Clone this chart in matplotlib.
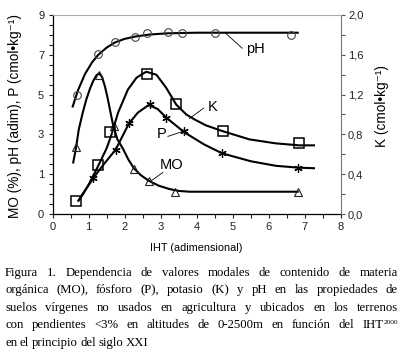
import matplotlib
matplotlib.use("Agg")
import matplotlib.pyplot as plt
from matplotlib.ticker import FixedLocator, MultipleLocator

plt.rcParams['font.family'] = ['Liberation Sans', 'DejaVu Sans']

# observed points (left axis values are in the axis' own scale, bottom = -1)
ph_x = [0.685, 1.265, 1.73, 2.28, 2.63, 3.2, 3.59, 4.51, 6.62]
ph_y = [4.99, 7.03, 7.65, 7.87, 8.08, 8.15, 8.12, 8.12, 8.0]
mo_x = [0.65, 1.29, 1.70, 2.27, 2.67, 3.40, 6.80]
mo_y = [2.35, 5.97, 3.44, 1.26, 0.68, 0.13, 0.12]
p_x = [1.13, 1.75, 2.12, 2.69, 3.15, 3.66, 4.70, 6.81]
p_y = [0.81, 2.23, 3.55, 4.52, 3.80, 3.15, 2.05, 1.33]
k_x = [0.65, 1.27, 1.59, 2.63, 3.43, 4.74, 6.84]
k_y = [0.134, 0.49, 0.82, 1.41, 1.11, 0.83, 0.71]

# fitted curves
ph_cx = [0.56, 0.7, 0.9, 1.1, 1.27, 1.5, 1.73, 2.0, 2.3, 2.7, 3.2, 4.0, 6.8]
ph_cy = [4.4, 5.19, 6.03, 6.63, 7.0, 7.36, 7.62, 7.8, 7.92, 8.02, 8.08, 8.11, 8.11]
mo_cx = [0.575, 0.65, 0.73, 0.84, 0.94, 1.04, 1.13, 1.22, 1.29, 1.37, 1.45, 1.52,
         1.59, 1.68, 1.8, 1.96, 2.1, 2.26, 2.45, 2.67, 2.95, 3.25, 3.5, 3.8, 6.8]
mo_cy = [1.59, 2.3, 3.26, 4.1, 4.77, 5.3, 5.69, 5.97, 6.07, 5.9, 5.44, 4.9,
         4.27, 3.47, 2.75, 2.26, 1.75, 1.29, 0.95, 0.67, 0.42, 0.25, 0.16, 0.12, 0.12]
p_cx = [0.72, 0.85, 1.04, 1.13, 1.4, 1.75, 2.12, 2.37, 2.67, 2.92, 3.15, 3.66,
        4.2, 4.70, 5.5, 6.2, 6.81, 7.25]
p_cy = [-0.33, 0.05, 0.55, 0.8, 1.45, 2.23, 3.55, 4.10, 4.48, 4.27, 3.85, 3.1,
        2.5, 2.05, 1.65, 1.42, 1.33, 1.3]
k_cx = [0.72, 0.85, 1.04, 1.29, 1.50, 1.62, 1.82, 2.09, 2.33, 2.60, 2.88, 3.15,
        3.43, 3.71, 3.94, 4.26, 4.74, 5.46, 6.19, 6.84, 7.25]
k_cy = [0.134, 0.2, 0.32, 0.50, 0.66, 0.78, 1.02, 1.25, 1.37, 1.43, 1.40, 1.27,
        1.10, 1.00, 0.95, 0.89, 0.83, 0.75, 0.71, 0.69, 0.69]

left_ticks = [-1, 1, 3, 5, 7, 9]
left_labels = ['0', '1', '3', '5', '7', '9']
right_ticks = [0.0, 0.4, 0.8, 1.2, 1.6, 2.0]
right_labels = ['0,0', '0,4', '0,8', '1,2', '1,6', '2,0']

caption = [
    "Figura 1. Dependencia de valores modales de contenido de materia",
    "orgánica (MO), fósforo (P), potasio (K) y pH en las propiedades de",
    "suelos vírgenes no usados en agricultura y ubicados en los terrenos",
    "con pendientes <3% en altitudes de 0-2500m en función del IHT",
    "en el principio del siglo XXI",
]

W, H = 403, 350
fig = plt.figure(figsize=(W / 100, H / 100), dpi=100)
ax = fig.add_axes([52.5 / W, 1 - 214 / H, (341 - 52.5) / W, (214 - 15) / H])
ax2 = ax.twinx()

lw = 1.5
ax.plot(ph_cx, ph_cy, color='black', lw=lw)
ax.plot(mo_cx, mo_cy, color='black', lw=lw)
ax.plot(p_cx, p_cy, color='black', lw=lw)
ax2.plot(k_cx, k_cy, color='black', lw=lw)

ax.plot(ph_x, ph_y, 'o', ms=5.5, mfc='none', mec='#444444', mew=0.8)
ax.plot(mo_x, mo_y, '^', ms=5.5, mfc='none', mec='#222222', mew=0.8)
ax.plot(p_x, p_y, ls='none', marker=(6, 2, 0), ms=6, mec='black', mew=0.9)
ax2.plot(k_x, k_y, 's', ms=6.5, mfc='none', mec='black', mew=1.1)

ax.set_xlim(0, 8)
ax.set_ylim(-1, 9)
ax2.set_ylim(0, 2)

ax.xaxis.set_major_locator(MultipleLocator(1))
ax.xaxis.set_minor_locator(MultipleLocator(0.5))
ax.yaxis.set_major_locator(FixedLocator(left_ticks))
ax.yaxis.set_minor_locator(MultipleLocator(0.5))
ax.set_yticklabels(left_labels)
ax2.yaxis.set_major_locator(FixedLocator(right_ticks))
ax2.yaxis.set_minor_locator(MultipleLocator(0.2))
ax2.set_yticklabels(right_labels)

ax.tick_params(which='both', direction='out', length=3, width=0.8, labelsize=8,
               pad=3, colors='#222222')
ax2.tick_params(which='both', direction='out', length=3, width=0.8, labelsize=8,
                pad=2, colors='#555555', labelcolor='#222222')

for s in ['left', 'bottom']:
    ax.spines[s].set_color('black')
    ax.spines[s].set_linewidth(0.9)
ax2.spines['left'].set_visible(False)
ax2.spines['bottom'].set_visible(False)
ax2.spines['right'].set_color('#777777')
ax2.spines['top'].set_color('#aaaaaa')
ax2.spines['right'].set_linewidth(0.8)
ax2.spines['top'].set_linewidth(0.8)
ax.spines['right'].set_visible(False)
ax.spines['top'].set_visible(False)

# series labels with leader lines
def tag(txt, tx, ty, x0, y0, x1, y1):
    ax.text(tx, ty, txt, fontsize=10.5, ha='center', va='center')
    ax.plot([x0, x1], [y0, y1], color='black', lw=0.6)

tag('pH', 5.64, 7.28, 5.26, 7.33, 4.81, 8.07)
tag('K', 4.44, 4.38, 4.19, 4.32, 3.80, 3.80)
tag('P', 3.02, 3.01, 3.2, 2.9, 3.66, 3.18)
tag('MO', 3.29, 1.46, 3.06, 1.09, 2.74, 0.67)

fig.text(15 / W, 1 - 116 / H, "MO (%), pH (adim), P (cmol•kg⁻¹)", rotation=90,
         fontsize=9.8, ha='center', va='center')
fig.text(382 / W, 1 - 106 / H, "K (cmol•kg⁻¹)", rotation=90,
         fontsize=9.8, ha='center', va='center')
fig.text(196 / W, 1 - 248 / H, "IHT (adimensional)", fontsize=7.8,
         ha='center', va='center')

# justified caption, word by word
renderer = fig.canvas.get_renderer()
cap_kw = dict(family='Liberation Serif', fontsize=9.2, va='baseline')
x_left, x_right = 5, 398
base = 276
for i, line in enumerate(caption):
    y = 1 - (base + i * 17.4) / H
    words = line.split(' ')
    texts = [fig.text(0, y, w, **cap_kw) for w in words]
    widths = [t.get_window_extent(renderer).width for t in texts]
    sup = None
    if i == 3:
        sup = fig.text(0, y + 4.5 / H, '2000', family='Liberation Serif', fontsize=5.3)
        widths[-1] += sup.get_window_extent(renderer).width
    if i < len(caption) - 1:
        gap = (x_right - x_left - sum(widths)) / (len(words) - 1)
    else:
        gap = 2.6
    x = x_left
    for t, wdt in zip(texts, widths):
        t.set_x(x / W)
        x += wdt + gap
    if sup is not None:
        tw = texts[-1].get_window_extent(renderer).width
        sup.set_x((x - gap - widths[-1] + tw) / W)

fig.savefig('out.png', dpi=100)
